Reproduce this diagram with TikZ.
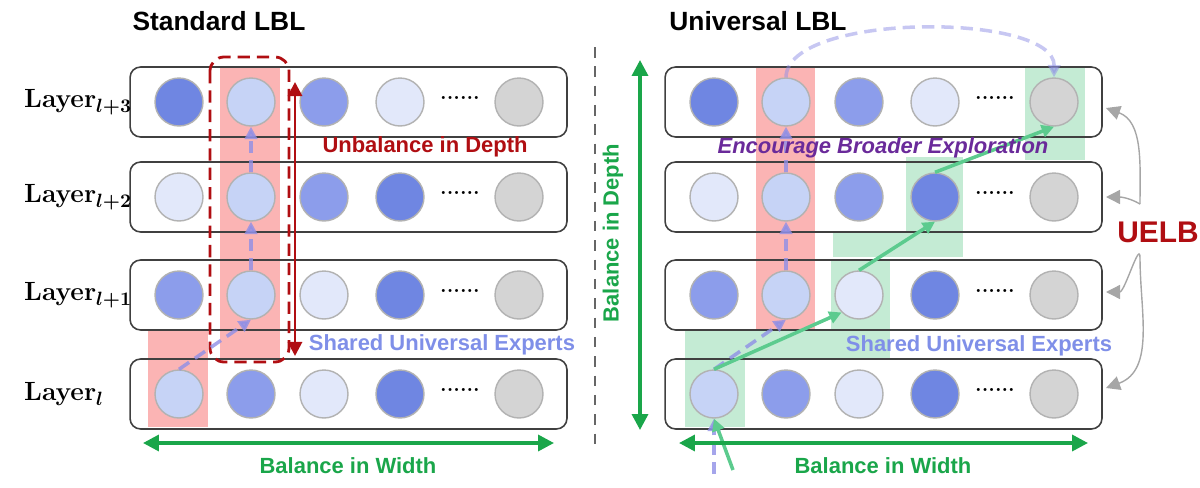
\documentclass[tikz,border=0pt]{standalone}
\usepackage{fontspec}
\usepackage{bm}
\newfontfamily\sansf{Liberation Sans}
\usetikzlibrary{arrows.meta,positioning}

\definecolor{cA}{HTML}{6F86E2}
\definecolor{cB}{HTML}{8C9DEB}
\definecolor{cC}{HTML}{C6D3F6}
\definecolor{cD}{HTML}{E2E8FA}
\definecolor{cE}{HTML}{D4D4D4}
\definecolor{hlred}{HTML}{FBB4B4}
\definecolor{hlgreen}{HTML}{C4EBD4}
\definecolor{darkred}{HTML}{B00E12}
\definecolor{bgreen}{HTML}{1AA64A}
\definecolor{lgreen}{HTML}{5CCB8E}
\definecolor{lav}{HTML}{8F8FE6}
\definecolor{sue}{HTML}{7F8FE8}
\definecolor{purp}{HTML}{6A2A9A}

\begin{document}
\begin{tikzpicture}[x=0.02cm, y=-0.02cm,
    expert/.style={circle, draw=gray!60, line width=0.8pt, minimum size=0.96cm, inner sep=0pt},
    row/.style={rectangle, draw=black!75, rounded corners=6pt, line width=0.9pt, minimum width=8.74cm, minimum height=1.4cm},
    title/.style={font=\sansf\bfseries\fontsize{15}{17}\selectfont},
    lbl/.style={font=\sansf\bfseries\fontsize{12.5}{14}\selectfont},
    layer/.style={anchor=west, font=\bfseries\fontsize{15}{17}\selectfont},
    route/.style={-{Triangle[length=7pt,width=7pt]}, lav, opacity=0.8, line width=2pt, dash pattern=on 7pt off 4pt},
    pick/.style={-{Triangle[length=7pt,width=7pt]}, lgreen, line width=2pt},
    balance/.style={{Triangle[length=9pt,width=9pt]}-{Triangle[length=9pt,width=9pt]}, bgreen, line width=2pt},
    uarrow/.style={-{Triangle[length=8pt,width=8pt]}, gray!70, line width=0.8pt}]
    \useasboundingbox (0,0) rectangle (1200,487);

    % highlights
    \fill[hlred] (220,67) rectangle (280,358);
    \fill[hlred] (148,330) rectangle (208,427);
    \fill[hlgreen] (685,330) rectangle (745,427);
    \fill[hlgreen] (745,330) rectangle (890,358);
    \fill[hlgreen] (831,260) rectangle (890,330);
    \fill[hlgreen] (833,232) rectangle (963,257);
    \fill[hlgreen] (906,157) rectangle (963,232);
    \fill[hlgreen] (1025,67) rectangle (1085,160);
    \fill[hlred] (756,67) rectangle (815,330);

    % rows of experts
    \foreach \p/\off in {L/0, R/535} {
        \foreach \r/\y/\ca/\cb/\cc/\cd in {0/394/cC/cB/cD/cA, 1/295/cB/cC/cD/cA, 2/197/cD/cC/cB/cA, 3/102/cA/cC/cB/cD} {
            \node[row] (\p-row\r) at (348.5+\off,\y) {};
            \foreach \c/\x/\col in {1/179/\ca, 2/251/\cb, 3/324/\cc, 4/400/\cd, 6/519/cE}
                \node[expert, fill=\col] (\p-\r-\c) at (\x+\off,\y) {};
            \node[font=\bfseries\large] (\p-\r-5) at (460+\off,\y-4) {......};
        }
    }

    % standard LBL
    \node[title] (stdT) at (219,21) {Standard LBL};
    \node[layer] (lay3) at (18,102) {Layer$_{\bm{l+3}}$};
    \node[layer] (lay2) at (18,197) {Layer$_{\bm{l+2}}$};
    \node[layer] (lay1) at (18,295) {Layer$_{\bm{l+1}}$};
    \node[layer] (lay0) at (18,394) {Layer$_{\bm{l}}$};
    \draw[darkred, line width=1.6pt, dash pattern=on 7pt off 4pt, rounded corners=8pt] (210,57) rectangle (289,362);
    \coordinate (depTop) at (295,82);
    \coordinate (depBot) at (295,356);
    \draw[{Triangle[length=8pt,width=8pt]}-{Triangle[length=8pt,width=8pt]}, darkred, line width=1.6pt] (depTop) -- (depBot);
    \node[lbl, text=darkred] (unbal) at (425,147) {Unbalance in Depth};
    \node[lbl, text=sue] (sueL) at (442,345) {Shared Universal Experts};
    \draw[route] (L-0-1.north) -- (L-1-2.south);
    \draw[route] (L-1-2.north) -- (L-2-2.south);
    \draw[route] (L-2-2.north) -- (L-3-2.south);
    \coordinate (bwL1) at (143,443);
    \coordinate (bwL2) at (554,443);
    \draw[balance] (bwL1) -- (bwL2);
    \node[lbl, text=bgreen] (bwLT) at (348,466) {Balance in Width};

    % divider
    \draw[gray!80!black, line width=1.2pt, dash pattern=on 6pt off 5pt] (595,47) -- (595,447);

    % universal LBL
    \node[title] (uniT) at (758,21) {Universal LBL};
    \coordinate (inB) at (714,474);
    \coordinate (inG) at (733,470);
    \draw[route] (inB) -- (R-0-1.south);
    \draw[pick] (inG) -- (R-0-1.south);
    \draw[route] (R-0-1.north) -- (R-1-2.south);
    \draw[route] (R-1-2.north) -- (R-2-2.south);
    \draw[route] (R-2-2.north) -- (R-3-2.south);
    \draw[route, opacity=0.5] (R-3-2.north) .. controls (787,12) and (1055,12) .. (R-3-6.north);
    \draw[pick] (R-0-1.north) -- (R-1-3.south west);
    \draw[pick] (R-1-3.north) -- (R-2-4.south);
    \draw[pick] (R-2-4.north) -- (R-3-6.south);
    \node[lbl, text=purp, font=\sansf\bfseries\itshape\fontsize{12.5}{14}\selectfont] (explore) at (883,148) {Encourage Broader Exploration};
    \node[lbl, text=sue] (sueR) at (979,346) {Shared Universal Experts};
    \coordinate (bd1) at (640,60);
    \coordinate (bd2) at (640,430);
    \draw[balance] (bd1) -- (bd2);
    \node[lbl, text=bgreen, rotate=90] (bdT) at (613,233) {Balance in Depth};
    \coordinate (bwR1) at (679,443);
    \coordinate (bwR2) at (1088,443);
    \draw[balance] (bwR1) -- (bwR2);
    \node[lbl, text=bgreen] (bwRT) at (883,466) {Balance in Width};

    % UELB
    \node[font=\sansf\bfseries\fontsize{17}{19}\selectfont, text=darkred] (uelb) at (1158,232) {UELB};
    \coordinate (u1) at (1140,204);
    \coordinate (u2) at (1140,258);
    \draw[uarrow] (u1) to[out=90,in=-20] (1106,108);
    \draw[uarrow] (u1) to[out=150,in=0] (1106,197);
    \draw[uarrow] (u2) to[out=90,in=0] (1106,292);
    \draw[uarrow] (u2) to[out=-90,in=20] (1106,388);
\end{tikzpicture}
\end{document}
